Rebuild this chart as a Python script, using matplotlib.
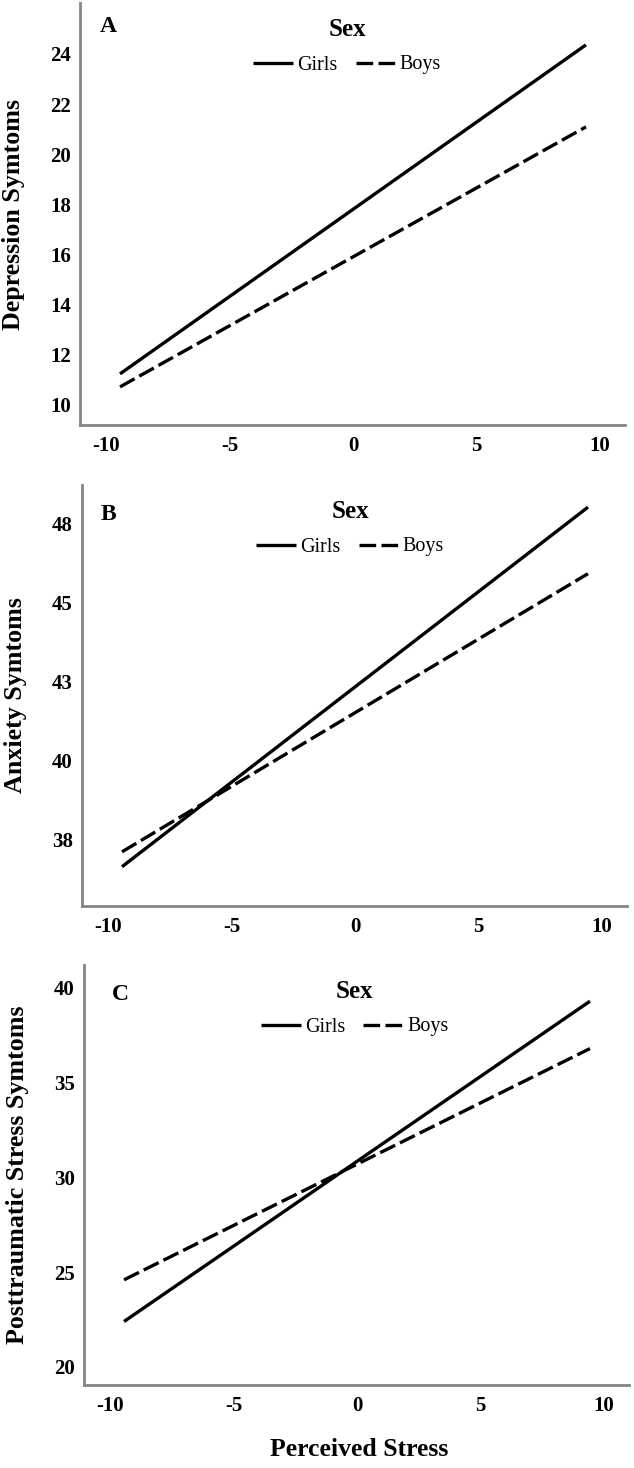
import matplotlib
matplotlib.use("Agg")
import matplotlib.pyplot as plt

plt.rcParams['font.family'] = ['Liberation Serif', 'DejaVu Serif']

# ---- data ----
stress = [-9.43, 9.43]
series_names = ["Girls", "Boys"]
legend_title = "Sex"
x_label = "Perceived Stress"
x_ticks = [-10, -5, 0, 5, 10]
x_tick_labels = ["-10", "-5", "0", "5", "10"]

panel_letters = ["A", "B", "C"]
y_labels = ["Depression Symtoms", "Anxiety Symtoms", "Posttraumatic Stress Symtoms"]

dep_girls = [11.24, 24.36]
dep_boys = [10.72, 21.09]
anx_girls = [36.65, 48.0]
anx_boys = [37.12, 45.9]
pts_girls = [22.4, 39.3]
pts_boys = [24.6, 36.8]

dep_ticks = [10, 12, 14, 16, 18, 20, 22, 24]
dep_tick_labels = ["10", "12", "14", "16", "18", "20", "22", "24"]
anx_ticks = [37.5, 40, 42.5, 45, 47.5]
anx_tick_labels = ["38", "40", "43", "45", "48"]
pts_ticks = [20, 25, 30, 35, 40]
pts_tick_labels = ["20", "25", "30", "35", "40"]

W, H = 634, 1468
fig = plt.figure(figsize=(W / 100, H / 100), dpi=100)

# layout in pixels: left, top, right, bottom
boxes = [(80, 3, 625, 425), (82, 485, 627, 906), (84, 965, 629, 1385)]
ylims = [(9.20, 26.03), (35.41, 48.70), (19.05, 41.21)]
letter_pos = [(0.051, 0.945), (0.048, 0.93), (0.066, 0.93)]
legend_x = [0.49, 0.492, 0.497]

girls_all = [dep_girls, anx_girls, pts_girls]
boys_all = [dep_boys, anx_boys, pts_boys]
ticks_all = [dep_ticks, anx_ticks, pts_ticks]
ticklabels_all = [dep_tick_labels, anx_tick_labels, pts_tick_labels]

spine_col = '#858585'
lw = 2.4

for i in range(3):
    l, t, r, b = boxes[i]
    h = b - t
    ax = fig.add_axes([l / W, (H - b) / H, (r - l) / W, h / H])
    ax.plot(stress, girls_all[i], color='black', lw=lw, solid_capstyle='butt',
            label=series_names[0])
    ax.plot(stress, boys_all[i], color='black', lw=lw, linestyle=(0, (5.0, 1.6)),
            dash_capstyle='butt', label=series_names[1])
    ax.set_xlim(-11.05, 11.01)
    ax.set_ylim(*ylims[i])
    ax.set_xticks(x_ticks)
    ax.set_xticklabels(x_tick_labels)
    ax.set_yticks(ticks_all[i])
    ax.set_yticklabels(ticklabels_all[i])
    ax.tick_params(axis='both', length=0, labelsize=15)
    ax.tick_params(axis='x', pad=8)
    ax.tick_params(axis='y', pad=6.5)
    for lab in ax.get_xticklabels() + ax.get_yticklabels():
        lab.set_fontweight('bold')
    for s in ['top', 'right']:
        ax.spines[s].set_visible(False)
    for s in ['left', 'bottom']:
        ax.spines[s].set_color(spine_col)
        ax.spines[s].set_linewidth(2.0)
    ax.set_ylabel(y_labels[i], fontsize=18.7, fontweight='bold')
    ax.yaxis.set_label_coords(-0.100, 0.5)
    ax.text(letter_pos[i][0], letter_pos[i][1], panel_letters[i], transform=ax.transAxes,
            fontsize=17, fontweight='bold', ha='center', va='center')
    ax.legend(title=legend_title, loc='upper center',
              bbox_to_anchor=(legend_x[i], 1 - 4.5 / h), ncol=2, frameon=False,
              fontsize=14.4, handlelength=2.0, handletextpad=0.2,
              columnspacing=0.9, borderpad=0, labelspacing=0.75,
              title_fontproperties={'size': 18, 'weight': 'bold'})
    if i == 2:
        ax.set_xlabel(x_label, fontsize=18.5, fontweight='bold')
        ax.xaxis.set_label_coords(0.505, -0.126)

fig.savefig("out.png", dpi=100)
